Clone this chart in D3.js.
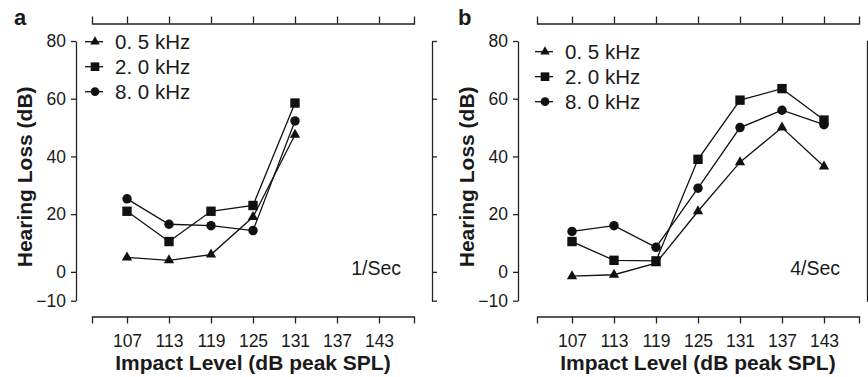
<!DOCTYPE html>
<html>
<head>
<meta charset="utf-8">
<script src="https://cdn.jsdelivr.net/npm/d3@7"></script>
<style>
  body { margin: 0; background: #fff; }
  text { font-family: "Liberation Sans", Arial, Helvetica, sans-serif; fill: #1a1a1a; }
</style>
</head>
<body>
<svg id="chart" width="868" height="377"></svg>
<script>
// impact levels (dB peak SPL) and hearing loss values
var levels = [107, 113, 119, 125, 131, 137, 143];
var yTicks = [-10, 0, 20, 40, 60, 80];
var freqs = ['0. 5 kHz', '2. 0 kHz', '8. 0 kHz'];

// panel a: 1/Sec
var a_05k = [5, 4, 6, 19, 47.5];
var a_2k  = [21, 10.5, 21, 23, 58.5];
var a_8k  = [25.3, 16.5, 16, 14.3, 52.3];

// panel b: 4/Sec
var b_05k = [-1.5, -1, 3, 21, 38, 50, 36.5];
var b_2k  = [10.5, 4, 3.8, 39, 59.5, 63.5, 52.6];
var b_8k  = [14, 16, 8.5, 29, 50, 56, 51];

var svg = d3.select('#chart');
var symbols = [d3.symbolTriangle, d3.symbolSquare, d3.symbolCircle];
var symSize = [46, 88, 70];

var panels = [
  { tag: 'a', rate: '1/Sec', series: [a_05k, a_2k, a_8k],
    x0: 92, x1: 414, yAxisX: 76, rightX: 432, legY: 41.7, legX: 85, tagX: 14, rateX: 401 },
  { tag: 'b', rate: '4/Sec', series: [b_05k, b_2k, b_8k],
    x0: 537, x1: 859, yAxisX: 518, rightX: 867, legY: 51.7, legX: 535, tagX: 458, rateX: 840 }
];

var yTop = 41, yBot = 300.7, topLineY = 23.5, botLineY = 316.5;

function styleAxis(g) {
  g.selectAll('path, line').attr('stroke', '#222').attr('stroke-width', 1.3);
  g.selectAll('text').attr('fill', '#1a1a1a').attr('font-family', '"Liberation Sans", Arial, sans-serif');
}

panels.forEach(function(p) {
  var x = d3.scaleLinear().domain([102, 148]).range([p.x0, p.x1]);
  var y = d3.scaleLinear().domain([-10, 80]).range([yBot, yTop]);

  // left axis with labels
  svg.append('g')
    .attr('transform', 'translate(' + p.yAxisX + ',0)')
    .call(d3.axisLeft(y).tickValues(yTicks).tickSize(5).tickSizeOuter(0).tickPadding(5)
      .tickFormat(function(d){ return d < 0 ? '\u2212' + Math.abs(d) : d; }))
    .call(styleAxis)
    .selectAll('text').attr('font-size', 17.5);

  // right axis, no labels
  svg.append('g')
    .attr('transform', 'translate(' + p.rightX + ',0)')
    .call(d3.axisRight(y).tickValues(yTicks).tickSize(5).tickSizeOuter(0).tickFormat(''))
    .call(styleAxis);

  // top axis, no labels
  svg.append('g')
    .attr('transform', 'translate(0,' + topLineY + ')')
    .call(d3.axisTop(x).tickValues(levels).tickSize(7).tickSizeOuter(7).tickFormat(''))
    .call(styleAxis);

  // bottom axis
  svg.append('g')
    .attr('transform', 'translate(0,' + botLineY + ')')
    .call(d3.axisBottom(x).tickValues(levels).tickSize(7).tickSizeOuter(7).tickPadding(11))
    .call(styleAxis)
    .selectAll('text').attr('font-size', 17.5);

  // titles
  svg.append('text')
    .attr('x', (p.x0 + p.x1) / 2).attr('y', 370)
    .attr('text-anchor', 'middle').attr('font-size', 21).attr('font-weight', 'bold')
    .text('Impact Level (dB peak SPL)');

  svg.append('text')
    .attr('transform', 'translate(' + (p.yAxisX - 44) + ',' + ((yTop + yBot) / 2 + 6) + ') rotate(-90)')
    .attr('text-anchor', 'middle').attr('font-size', 21).attr('font-weight', 'bold')
    .text('Hearing Loss (dB)');

  svg.append('text')
    .attr('x', p.tagX).attr('y', 25)
    .attr('font-size', 22).attr('font-weight', 'bold')
    .text(p.tag);

  svg.append('text')
    .attr('x', p.rateX).attr('y', 275)
    .attr('text-anchor', 'end').attr('font-size', 19.5)
    .text(p.rate);

  // series lines and markers
  var line = d3.line()
    .x(function(d, i){ return x(levels[i]); })
    .y(function(d){ return y(d); });

  p.series.forEach(function(vals, k) {
    svg.append('path')
      .attr('d', line(vals))
      .attr('fill', 'none')
      .attr('stroke', '#111')
      .attr('stroke-width', 1.3);
  });
  p.series.forEach(function(vals, k) {
    svg.selectAll(null).data(vals).enter()
      .append('path')
      .attr('d', d3.symbol().type(symbols[k]).size(symSize[k]))
      .attr('transform', function(d, i){ return 'translate(' + x(levels[i]) + ',' + y(d) + ')'; })
      .attr('fill', '#111');
  });

  // legend
  var leg = svg.append('g').attr('transform', 'translate(' + p.legX + ',' + p.legY + ')');
  freqs.forEach(function(f, k) {
    var row = leg.append('g').attr('transform', 'translate(0,' + (k * 25) + ')');
    row.append('line').attr('x1', 0).attr('x2', 18).attr('y1', 0).attr('y2', 0)
      .attr('stroke', '#111').attr('stroke-width', 1.3);
    row.append('path')
      .attr('d', d3.symbol().type(symbols[k]).size(symSize[k] * 0.85))
      .attr('transform', 'translate(10,0)')
      .attr('fill', '#111');
    row.append('text')
      .attr('x', 30).attr('y', 7)
      .attr('font-size', 20.5)
      .text(f);
  });
});
</script>
</body>
</html>
